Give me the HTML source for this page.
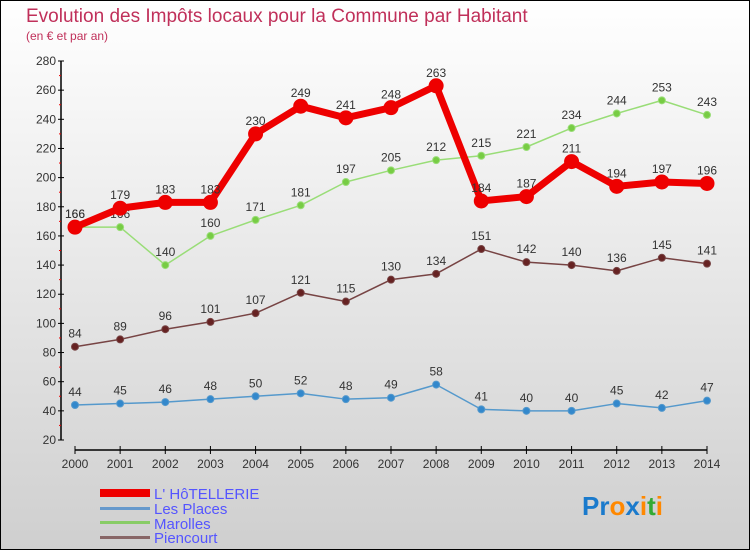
<!DOCTYPE html>
<html><head><meta charset="utf-8"><style>
body{margin:0;width:750px;height:550px;overflow:hidden;font-family:"Liberation Sans",sans-serif}
svg{display:block}
</style></head><body>
<svg id="chart" width="750" height="550" xmlns="http://www.w3.org/2000/svg">
<defs><linearGradient id="bg" x1="0" y1="0" x2="0" y2="1"><stop offset="0" stop-color="#ffffff"/><stop offset="1" stop-color="#cfcfcf"/></linearGradient></defs>
<rect x="0.5" y="0.5" width="749" height="549" fill="url(#bg)" stroke="#000"/>
<text x="26" y="22" font-size="19" fill="#c0305a">Evolution des Impôts locaux pour la Commune par Habitant</text>
<text x="26" y="40" font-size="12" fill="#c0305a">(en € et par an)</text>
<g id="axes"></g>
<g id="series"></g>
<g font-size="15" fill="#5555ff">
<rect x="100" y="489" width="50" height="8" fill="#ee0000"/>
<text x="154" y="499">L' HôTELLERIE</text>
<rect x="100" y="507" width="50" height="3" fill="#6699cc"/>
<text x="154" y="514">Les Places</text>
<rect x="100" y="521" width="50" height="3" fill="#88cc66"/>
<text x="154" y="529">Marolles</text>
<rect x="100" y="536" width="50" height="3" fill="#886666"/>
<text x="154" y="543">Piencourt</text>
</g>
<text x="582" y="515" font-size="26" font-weight="bold"><tspan fill="#1a7acc">Pr</tspan><tspan fill="#ff8800">o</tspan><tspan fill="#1a7acc">x</tspan><tspan fill="#ff8800">i</tspan><tspan fill="#33aa33">t</tspan><tspan fill="#ff8800">i</tspan></text>
</svg>
<script>
const years=["2000","2001","2002","2003","2004","2005","2006","2007","2008","2009","2010","2011","2012","2013","2014"];
const yTicks=[20,40,60,80,100,120,140,160,180,200,220,240,260,280];
const hotellerie=[166,179,183,183,230,249,241,248,263,184,187,211,194,197,196];
const lesPlaces=[44,45,46,48,50,52,48,49,58,41,40,40,45,42,47];
const marolles=[166,166,140,160,171,181,197,205,212,215,221,234,244,253,243];
const piencourt=[84,89,96,101,107,121,115,130,134,151,142,140,136,145,141];
const NS="http://www.w3.org/2000/svg";
function xs(i){return 75+i*(707-75)/(years.length-1);}
function ys(v){return 440-(v-20)*(440-61)/260;}
function mk(t,a,p){const e=document.createElementNS(NS,t);for(const k in a)e.setAttribute(k,a[k]);p.appendChild(e);return e;}
const ax=document.getElementById('axes');
let l=mk('line',{x1:61,y1:61,x2:61,y2:440,stroke:'#000','stroke-width':1.5},ax);


l=mk('line',{x1:75,y1:450,x2:707,y2:450,stroke:'#000','stroke-width':1.5},ax);


yTicks.forEach((v,i)=>{const y=ys(v);
 mk('line',{x1:58,y1:y,x2:64,y2:y,stroke:'#000'},ax);
 if(i<yTicks.length-1) mk('line',{x1:59,y1:ys(v+10),x2:61,y2:ys(v+10),stroke:'#e00'},ax);
 const t=mk('text',{x:56,y:y+4,'text-anchor':'end','font-size':12,fill:'#333'},ax);t.textContent=v;
 
 });
years.forEach((yr,i)=>{const x=xs(i);
 mk('line',{x1:x,y1:446,x2:x,y2:454,stroke:'#000'},ax);
 const t=mk('text',{x:x,y:468,'text-anchor':'middle','font-size':12,fill:'#333'},ax);t.textContent=yr;
 
 });
const sg=document.getElementById('series');
function draw(data,name,color,dot,w,r){
 const g=mk('g',{},sg);
 
 
 const p=mk('polyline',{points:data.map((v,i)=>xs(i)+','+ys(v)).join(' '),fill:'none',stroke:color,'stroke-width':w,'stroke-linejoin':'round'},g);
 
 
 data.forEach((v,i)=>{const c=mk('circle',{cx:xs(i),cy:ys(v),r:r,fill:dot,stroke:color,'stroke-width':1},g);
  
  
  const t=mk('text',{x:xs(i),y:ys(v)-9,'text-anchor':'middle','font-size':12,fill:'#333'},g);t.textContent=v;
  
  });
}
draw(lesPlaces,'les-places','#5599cc','#3388cc',1.5,3.5);
draw(piencourt,'piencourt','#774444','#662222',1.5,3.5);
draw(marolles,'marolles','#99dd77','#77cc44',1.5,3.5);
draw(hotellerie,'hotellerie','#ee0000','#ee0000',7,7);
</script>
</body></html>
